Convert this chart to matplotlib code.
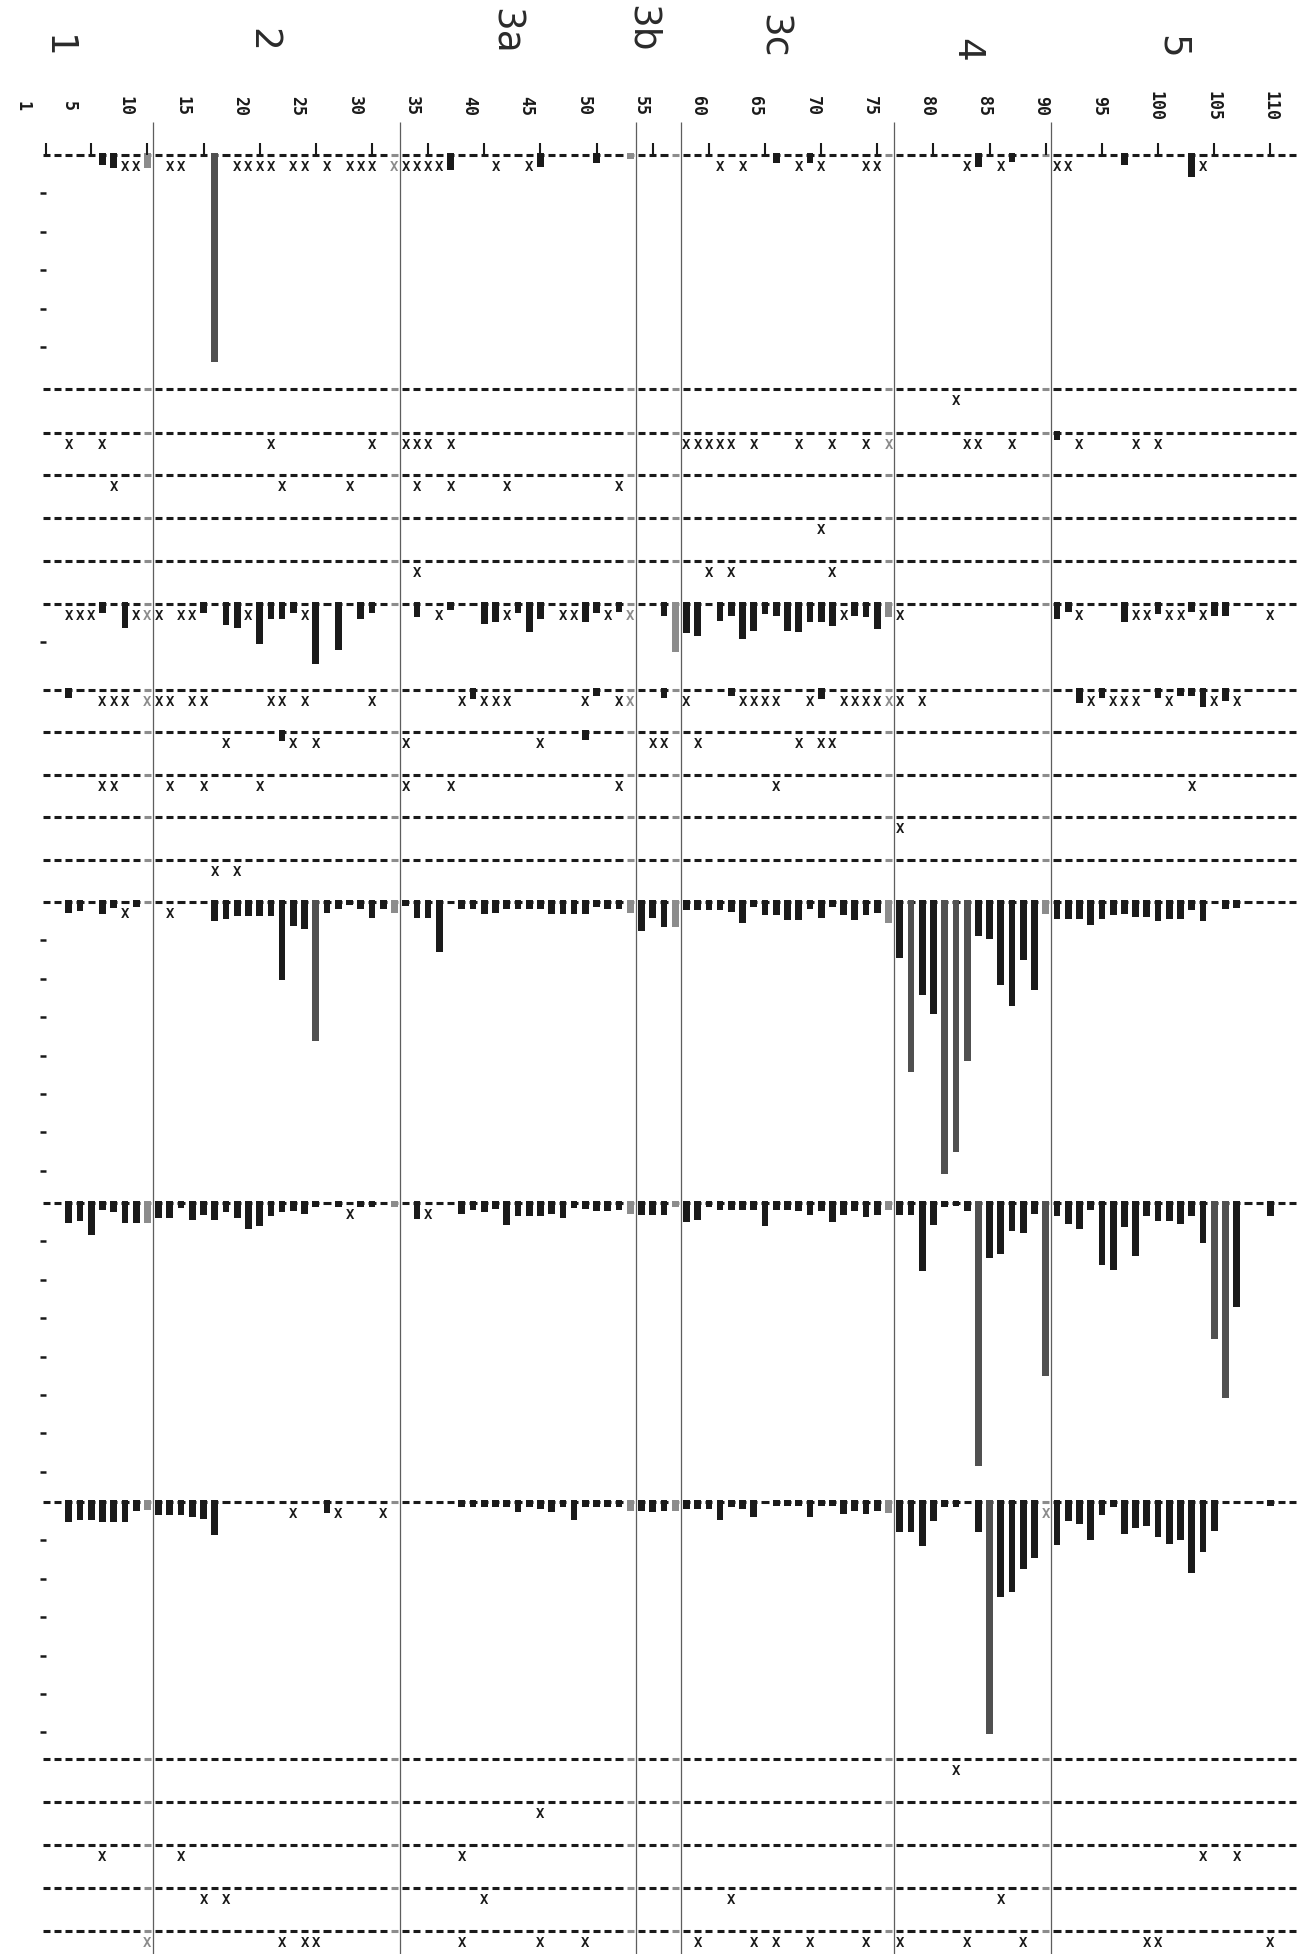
import numpy as np
import matplotlib.pyplot as plt

# --- axis / labels --------------------------------------------------------
col_ticks = [1, 5, 10, 15, 20, 25, 30, 35, 40, 45, 50, 55,
             60, 65, 70, 75, 80, 85, 90, 95, 100, 105, 110]
section_names = ["1", "2", "3a", "3b", "3c", "4", "5"]
section_bounds = [10.5, 32.5, 53.5, 57.5, 76.5, 90.5]
n_cols = 112

# --- data: one dict of bar depths (col -> units) and one list of "x" cols per row
r01_bars = {6: 0.26, 7: 0.35, 10: 0.35, 16: 5.4, 37: 0.4, 45: 0.3, 50: 0.2, 53: 0.1,
            66: 0.22, 69: 0.22, 84: 0.3, 87: 0.17, 97: 0.26, 103: 0.58}
r01_x = [8, 9, 12, 13, 18, 19, 20, 21, 23, 24, 26, 28, 29, 30, 32, 33, 34, 35, 36,
         41, 44, 61, 63, 68, 70, 74, 75, 83, 86, 91, 92, 104]

r02_bars = {}
r02_x = [82]

r03_bars = {91: 0.2}
r03_x = [3, 6, 21, 30, 33, 34, 35, 37, 58, 59, 60, 61, 62, 64, 68, 71, 74, 76,
         83, 84, 87, 93, 98, 100]

r04_bars = {}
r04_x = [7, 22, 28, 34, 37, 42, 52]

r05_bars = {}
r05_x = [70]

r06_bars = {}
r06_x = [34, 60, 62, 71]

r07_bars = {6: 0.24, 8: 0.63, 15: 0.24, 17: 0.55, 18: 0.63, 20: 1.03, 21: 0.4, 22: 0.4,
            23: 0.24, 25: 1.57, 27: 1.19, 29: 0.4, 30: 0.24, 34: 0.35, 37: 0.16,
            40: 0.53, 41: 0.46, 43: 0.24, 44: 0.72, 45: 0.4, 49: 0.46, 50: 0.24,
            52: 0.2, 56: 0.3, 57: 1.25, 58: 0.76, 59: 0.83, 61: 0.43, 62: 0.3,
            63: 0.91, 64: 0.7, 65: 0.26, 66: 0.3, 67: 0.7, 68: 0.74, 69: 0.48,
            70: 0.48, 71: 0.57, 73: 0.3, 74: 0.35, 75: 0.65, 76: 0.35, 91: 0.4,
            92: 0.22, 97: 0.46, 100: 0.26, 103: 0.22, 105: 0.3, 106: 0.3}
r07_x = [3, 4, 5, 9, 10, 11, 13, 14, 19, 24, 36, 42, 47, 48, 51, 53, 72, 77, 93,
         98, 99, 101, 102, 104, 110]

r08_bars = {3: 0.23, 39: 0.24, 50: 0.16, 56: 0.22, 62: 0.17, 70: 0.26, 93: 0.35,
            95: 0.22, 100: 0.22, 102: 0.17, 103: 0.17, 104: 0.46, 106: 0.3}
r08_x = [6, 7, 8, 10, 11, 12, 14, 15, 21, 22, 24, 30, 38, 40, 41, 42, 49, 52, 53,
         58, 63, 64, 65, 66, 69, 72, 73, 74, 75, 76, 77, 79, 94, 96, 97, 98, 101,
         105, 107]

r09_bars = {22: 0.23, 49: 0.21}
r09_x = [17, 23, 25, 33, 45, 55, 56, 59, 68, 70, 71]

r10_bars = {}
r10_x = [6, 7, 12, 15, 20, 33, 37, 52, 66, 103]

r11_bars = {}
r11_x = [77]

r12_bars = {}
r12_x = [16, 18]

r13_bars = {3: 0.28, 4: 0.23, 6: 0.3, 7: 0.15, 9: 0.13, 16: 0.5, 17: 0.43, 18: 0.37,
            19: 0.37, 20: 0.37, 21: 0.37, 22: 2.04, 23: 0.63, 24: 0.7, 25: 3.63,
            26: 0.28, 27: 0.19, 28: 0.08, 29: 0.19, 30: 0.41, 31: 0.17, 32: 0.28,
            33: 0.1, 34: 0.41, 35: 0.41, 36: 1.3, 38: 0.17, 39: 0.17, 40: 0.32,
            41: 0.28, 42: 0.19, 43: 0.19, 44: 0.17, 45: 0.19, 46: 0.3, 47: 0.32,
            48: 0.32, 49: 0.32, 50: 0.13, 51: 0.17, 52: 0.17, 53: 0.28, 54: 0.75,
            55: 0.42, 56: 0.65, 57: 0.65, 58: 0.22, 59: 0.22, 60: 0.22, 61: 0.22,
            62: 0.26, 63: 0.54, 64: 0.13, 65: 0.35, 66: 0.35, 67: 0.48, 68: 0.48,
            69: 0.19, 70: 0.42, 71: 0.13, 72: 0.35, 73: 0.48, 74: 0.35, 75: 0.28,
            76: 0.54, 77: 1.46, 78: 4.43, 79: 2.42, 80: 2.91, 81: 7.09, 82: 6.52,
            83: 4.13, 84: 0.89, 85: 0.96, 86: 2.16, 87: 2.7, 88: 1.52, 89: 2.3,
            90: 0.3, 91: 0.45, 92: 0.45, 93: 0.45, 94: 0.59, 95: 0.45, 96: 0.35,
            97: 0.3, 98: 0.39, 99: 0.39, 100: 0.5, 101: 0.45, 102: 0.45, 103: 0.22,
            104: 0.5, 106: 0.19, 107: 0.16}
r13_x = [8, 12]

r14_bars = {3: 0.53, 4: 0.48, 5: 0.83, 6: 0.19, 7: 0.24, 8: 0.53, 9: 0.53, 10: 0.53,
            11: 0.38, 12: 0.38, 13: 0.14, 14: 0.45, 15: 0.32, 16: 0.45, 17: 0.24,
            18: 0.38, 19: 0.67, 20: 0.6, 21: 0.33, 22: 0.24, 23: 0.22, 24: 0.29,
            25: 0.1, 27: 0.1, 29: 0.1, 30: 0.1, 32: 0.1, 34: 0.41, 38: 0.29,
            39: 0.19, 40: 0.24, 41: 0.16, 42: 0.57, 43: 0.33, 44: 0.33, 45: 0.33,
            46: 0.29, 47: 0.38, 48: 0.14, 49: 0.16, 50: 0.22, 51: 0.22, 52: 0.19,
            53: 0.29, 54: 0.3, 55: 0.3, 56: 0.31, 57: 0.1, 58: 0.5, 59: 0.43,
            60: 0.1, 61: 0.17, 62: 0.17, 63: 0.17, 64: 0.17, 65: 0.6, 66: 0.19,
            67: 0.19, 68: 0.21, 69: 0.31, 70: 0.21, 71: 0.5, 72: 0.31, 73: 0.21,
            74: 0.36, 75: 0.31, 76: 0.19, 77: 0.31, 78: 0.31, 79: 1.77, 80: 0.57,
            81: 0.11, 82: 0.08, 83: 0.21, 84: 6.86, 85: 1.42, 86: 1.34, 87: 0.72,
            88: 0.77, 89: 0.29, 90: 4.5, 91: 0.33, 92: 0.55, 93: 0.69, 94: 0.19,
            95: 1.61, 96: 1.74, 97: 0.62, 98: 1.39, 99: 0.33, 100: 0.46, 101: 0.46,
            102: 0.55, 103: 0.33, 104: 1.05, 105: 3.54, 106: 5.07, 107: 2.72,
            110: 0.33}
r14_x = [28, 35]

r15_bars = {3: 0.53, 4: 0.48, 5: 0.48, 6: 0.53, 7: 0.53, 8: 0.53, 9: 0.24, 10: 0.21,
            11: 0.33, 12: 0.33, 13: 0.33, 14: 0.38, 15: 0.43, 16: 0.86, 26: 0.29,
            38: 0.14, 39: 0.14, 40: 0.14, 41: 0.14, 42: 0.14, 43: 0.27, 44: 0.14,
            45: 0.19, 46: 0.27, 47: 0.14, 48: 0.46, 49: 0.14, 50: 0.14, 51: 0.14,
            52: 0.14, 53: 0.24, 54: 0.24, 55: 0.27, 56: 0.24, 57: 0.24, 58: 0.19,
            59: 0.19, 60: 0.19, 61: 0.46, 62: 0.14, 63: 0.17, 64: 0.38, 66: 0.1,
            67: 0.1, 68: 0.1, 69: 0.38, 70: 0.1, 71: 0.1, 72: 0.31, 73: 0.24,
            74: 0.31, 75: 0.24, 76: 0.29, 77: 0.78, 78: 0.78, 79: 1.15, 80: 0.5,
            81: 0.12, 82: 0.12, 84: 0.78, 85: 6.04, 86: 2.48, 87: 2.35, 88: 1.74,
            89: 1.45, 91: 1.12, 92: 0.5, 93: 0.57, 94: 0.98, 95: 0.33, 96: 0.12,
            97: 0.84, 98: 0.67, 99: 0.62, 100: 0.91, 101: 1.1, 102: 0.98,
            103: 1.86, 104: 1.29, 105: 0.75, 110: 0.11}
r15_x = [23, 27, 31, 90]

r16_bars = {}
r16_x = [82]

r17_bars = {}
r17_x = [45]

r18_bars = {}
r18_x = [6, 13, 38, 104, 107]

r19_bars = {}
r19_x = [15, 17, 40, 62, 86]

r20_bars = {}
r20_x = [10, 22, 24, 25, 38, 45, 49, 59, 64, 66, 69, 74, 77, 83, 88, 99, 100, 110]

rows = [(r01_bars, r01_x), (r02_bars, r02_x), (r03_bars, r03_x), (r04_bars, r04_x),
        (r05_bars, r05_x), (r06_bars, r06_x), (r07_bars, r07_x), (r08_bars, r08_x),
        (r09_bars, r09_x), (r10_bars, r10_x), (r11_bars, r11_x), (r12_bars, r12_x),
        (r13_bars, r13_x), (r14_bars, r14_x), (r15_bars, r15_x), (r16_bars, r16_x),
        (r17_bars, r17_x), (r18_bars, r18_x), (r19_bars, r19_x), (r20_bars, r20_x)]

# scale marks drawn under the rows that carry bars (row index -> number of marks)
scale_marks = {0: 5, 6: 1, 12: 7, 13: 7, 14: 6}

# --- layout (pixels of the 1300x1954 page) --------------------------------
W, H = 1300, 1954
UNIT = 38.4          # pixels per bar unit
COL0, COLW = 46.3, 11.23
baselines_px = [155, 389, 432.5, 475, 517.5, 561, 604, 689.5, 732, 775, 817, 860,
                902, 1203, 1502, 1759, 1802, 1845, 1888, 1931]
section_pos = [(1.9, 47), (20.2, 40), (41.8, 31), (54.0, 29), (65.7, 36),
               (82.9, 50), (101.2, 47)]
edge_cols = {10, 32, 53, 57, 76, 90}

mono = "DejaVu Sans Mono"
ink = "#1a1a1a"
faint = "#8c8c8c"

fig = plt.figure(figsize=(W / 100, H / 100), dpi=100)
ax = fig.add_axes([0, 0, 1, 1])
ax.set_xlim(1 - COL0 / COLW, 1 + (W - COL0) / COLW)
ax.set_ylim(H / UNIT, 0)
ax.axis("off")

# section separators
ax.vlines(section_bounds, 122 / UNIT, H / UNIT, color="#5e5e5e", lw=0.9, zorder=1)

cols = np.arange(1, n_cols + 1)
for i, (bars, xs) in enumerate(rows):
    y0 = baselines_px[i] / UNIT

    # dashed row: one dash per column
    dcol = [faint if c in edge_cols else ink for c in cols]
    ax.hlines(np.full(len(cols), y0), cols - 0.32, cols + 0.32, colors=dcol, lw=2.2, zorder=2)

    if bars:
        bc = np.array(list(bars.keys()))
        bv = np.array(list(bars.values()))
        colors = []
        for c, v in zip(bc, bv):
            if v > 3:
                colors.append("#505050")
            elif c in edge_cols:
                colors.append(faint)
            else:
                colors.append(ink)
        ax.bar(bc, bv + 0.05, width=0.6, bottom=y0 - 0.05, color=colors,
               linewidth=0, zorder=3)

    for c in xs:
        ax.text(c, y0 + 0.32, "X", ha="center", va="center", fontsize=10,
                family=mono, weight="bold", color=faint if c in edge_cols else ink,
                zorder=4)

    if i in scale_marks:
        ys = y0 + np.arange(1, scale_marks[i] + 1)
        ax.hlines(ys, 0.4, 0.95, color=ink, lw=1.8)

# tick marks along the first row
y_top = baselines_px[0] / UNIT
ax.vlines(col_ticks, y_top - 0.3, y_top, color=ink, lw=1.5, zorder=3)

# column numbers (printed rotated)
for c in col_ticks:
    xl = c - 2.1 * (110 - c) / 109
    ax.text(xl, 106 / UNIT, str(c), rotation=-90, ha="center", va="center",
            fontsize=12, family=mono, weight="bold", color=ink)

# section names
for name, (xc, yp) in zip(section_names, section_pos):
    ax.text(xc, yp / UNIT, name, rotation=-90, ha="center", va="center",
            fontsize=27, family="DejaVu Sans", color="#2a2a2a")

fig.savefig("out.png", dpi=100, facecolor="white")
